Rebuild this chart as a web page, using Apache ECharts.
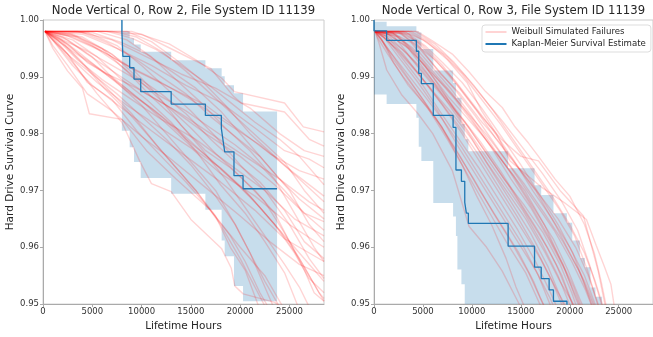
<!DOCTYPE html>
<html><head><meta charset="utf-8">
<script src="https://cdn.jsdelivr.net/npm/echarts@6/dist/echarts.min.js"></script>
<style>html,body{margin:0;padding:0;background:#fff}#c{width:653px;height:337px}</style>
</head><body><div id="c"></div><script>
const panelTitles = ['Node Vertical 0, Row 2, File System ID 11139', 'Node Vertical 0, Row 3, File System ID 11139'];
const xAxisName = 'Lifetime Hours';
const yAxisName = 'Hard Drive Survival Curve';
const legendNames = ['Weibull Simulated Failures', 'Kaplan-Meier Survival Estimate'];
const xMin = 0, xMax = 28500, xStep = 5000;
const yMin = 0.95, yMax = 1.0, yStep = 0.01;

// Left panel: Kaplan-Meier estimate
const leftKmTimes = [8000, 8000, 8100, 8790, 9230, 9910, 13000, 16470, 18090, 18260, 18430, 19370, 20290, 23740];
const leftKmSurv  = [1.000, 0.998, 0.9936, 0.9916, 0.9896, 0.9874, 0.9852, 0.9832, 0.9809, 0.9788, 0.9768, 0.9726, 0.9703, 0.9703];
// Left panel: confidence band (interval edges, then upper / lower per interval)
const leftBandEdges = [8000, 8100, 8790, 9230, 9910, 13000, 16470, 18120, 18430, 19370, 20290, 23740];
const leftBandUpper = [0.9999, 0.9980, 0.9968, 0.9957, 0.9944, 0.9929, 0.9915, 0.9901, 0.9885, 0.9871, 0.9839];
const leftBandLower = [0.9805, 0.9805, 0.9776, 0.9750, 0.9722, 0.9694, 0.9666, 0.9612, 0.9584, 0.9532, 0.9505];

// Right panel: Kaplan-Meier estimate
const rightKmTimes = [0, 0, 1290, 4330, 4570, 4840, 6055, 8080, 8370, 8930, 9270, 9435, 9640, 13700, 16400, 17080, 17890, 18330, 19710, 23300];
const rightKmSurv  = [1.000, 0.9981, 0.9964, 0.9945, 0.9906, 0.9888, 0.9832, 0.9811, 0.9736, 0.9716, 0.9679, 0.9660, 0.9642, 0.9602, 0.9565, 0.9545, 0.9525, 0.9505, 0.9485, 0.9485];
const rightBandEdges = [0, 1290, 4330, 4570, 4840, 6055, 8080, 8370, 8520, 8930, 9270, 9640, 13700, 16400, 17080, 18330, 19700, 20250, 21030, 21540, 22110, 22620, 23300];
const rightBandUpper = [0.9997, 0.9989, 0.9980, 0.9978, 0.9949, 0.9911, 0.9889, 0.9863, 0.9863, 0.9817, 0.9790, 0.9769, 0.9739, 0.9709, 0.9692, 0.9660, 0.9643, 0.9612, 0.9581, 0.9565, 0.9529, 0.9513];
const rightBandLower = [0.9869, 0.9852, 0.9828, 0.9777, 0.9752, 0.9678, 0.9654, 0.9620, 0.9561, 0.9535, 0.9450, 0.9450, 0.9450, 0.9450, 0.9450, 0.9450, 0.9450, 0.9450, 0.9450, 0.9450, 0.9450, 0.9450];

// Left panel: Weibull simulated failure curves [hours, survival]
const leftSims = [
 [[200,.998],[5000,.998],[9000,.998],[12800,.9958],[15500,.9930],[18100,.9898],[19400,.9874],[24500,.9854],[26400,.9812],[28500,.9803]],
 [[200,.998],[6000,.998],[10000,.9975],[13500,.9945],[17000,.9915],[19300,.9866],[20100,.9854],[24500,.9838],[27000,.9790],[28500,.9778]],
 [[200,.998],[3500,.998],[7000,.9965],[10500,.9935],[14000,.9905],[17500,.9880],[21000,.9845],[24000,.9800],[26500,.9770],[28500,.9760]],
 [[200,.998],[4000,.9975],[7500,.9950],[11000,.9920],[14500,.9885],[18000,.9855],[21500,.9810],[24500,.9770],[27000,.9755],[28500,.9740]],
 [[200,.998],[2500,.9972],[6000,.9945],[9500,.9910],[13000,.9880],[16500,.9850],[20000,.9805],[23000,.9765],[26000,.9735],[28500,.9720]],
 [[200,.998],[3000,.9970],[5500,.9950],[8500,.9920],[12000,.9890],[15000,.9860],[18500,.9820],[22000,.9780],[25500,.9730],[28500,.9690]],
 [[200,.998],[2000,.9970],[4500,.9940],[7500,.9905],[10500,.9870],[14000,.9835],[17000,.9800],[20500,.9760],[24000,.9720],[27000,.9680],[28500,.9665]],
 [[200,.998],[1800,.9965],[4000,.9935],[6500,.9905],[9500,.9880],[13000,.9845],[16500,.9800],[20000,.9760],[23500,.9710],[26500,.9660],[28500,.9645]],
 [[200,.998],[1500,.9965],[3500,.9930],[6000,.9895],[9000,.9860],[12000,.9825],[15500,.9790],[19000,.9745],[22500,.9700],[25500,.9650],[28500,.9620]],
 [[200,.998],[1500,.9960],[3000,.9930],[5500,.9890],[8500,.9850],[11500,.9815],[15000,.9775],[18000,.9730],[21500,.9690],[25000,.9640],[28500,.9600]],
 [[200,.998],[1200,.9960],[3000,.9920],[5000,.9885],[8000,.9845],[11000,.9805],[14500,.9760],[18000,.9715],[21500,.9665],[24500,.9615],[28500,.9575]],
 [[200,.998],[1000,.9955],[2500,.9920],[4500,.9870],[7000,.9840],[10000,.9795],[13000,.9755],[16500,.9705],[20000,.9655],[23000,.9610],[26000,.9570],[28500,.9550]],
 [[200,.998],[1000,.9950],[2500,.9910],[4000,.9880],[4700,.9835],[8000,.9825],[10500,.9770],[13500,.9720],[17000,.9665],[20000,.9600],[22500,.9550],[24500,.9490]],
 [[200,.998],[1500,.9955],[3500,.9915],[5500,.9870],[8000,.9820],[9800,.9752],[11000,.9712],[13000,.9698],[15000,.9649],[18100,.9598],[19100,.9563],[19450,.9532],[20300,.9518],[23500,.9503],[24500,.9490]],
 [[200,.998],[2000,.9960],[4000,.9925],[6500,.9880],[9000,.9835],[11500,.9780],[13500,.9740],[15500,.9700],[18000,.9640],[20000,.9580],[21500,.9530],[23000,.9480]],
 [[200,.998],[2500,.9965],[5000,.9935],[7500,.9890],[10000,.9850],[12500,.9800],[15000,.9750],[17500,.9700],[19500,.9640],[21000,.9590],[22500,.9540],[24500,.9480]],
 [[200,.998],[3000,.9975],[6000,.9950],[8500,.9910],[11000,.9865],[13500,.9825],[16000,.9775],[18500,.9720],[20500,.9670],[22500,.9620],[24500,.9570],[26000,.9530],[27000,.9495]],
 [[200,.998],[4500,.9978],[7500,.9955],[10000,.9920],[12500,.9880],[15000,.9840],[17500,.9795],[20000,.9745],[22500,.9700],[25000,.9640],[27000,.9580],[28500,.9545]],
 [[200,.998],[5500,.998],[8500,.9965],[11000,.9935],[13500,.9895],[16000,.9855],[18500,.9810],[21000,.9770],[23500,.9720],[25500,.9660],[27500,.9600],[28500,.9575]],
 [[200,.998],[7000,.998],[9500,.9970],[12000,.9945],[14500,.9910],[17000,.9870],[19500,.9830],[22000,.9790],[24500,.9750],[26500,.9700],[28500,.9660]],
 [[200,.998],[2000,.9965],[4500,.9945],[7000,.9920],[9500,.9895],[12000,.9865],[14500,.9840],[17000,.9810],[19500,.9780],[22000,.9745],[24500,.9700],[26500,.9660],[28500,.9630]],
 [[200,.998],[3500,.9970],[6500,.9945],[9000,.9915],[11500,.9870],[14000,.9815],[16500,.9770],[19000,.9740],[21500,.9700],[23500,.9660],[25000,.9610],[26500,.9560],[27500,.9520],[28500,.9505]],
 [[200,.998],[1000,.9965],[2800,.9935],[5000,.9905],[7500,.9870],[10000,.9830],[12500,.9790],[15000,.9745],[17500,.9690],[19500,.9640],[21000,.9590],[22500,.9530],[23500,.9490]],
 [[200,.998],[2500,.9958],[4500,.9925],[7000,.9900],[9500,.9865],[12000,.9830],[14500,.9790],[17000,.9755],[19500,.9715],[22000,.9670],[24000,.9630],[26000,.9580],[28000,.9520],[28500,.9510]],
 [[200,.998],[4000,.9978],[6500,.9960],[9500,.9930],[12000,.9900],[14500,.9870],[17000,.9830],[19500,.9795],[22000,.9760],[24000,.9720],[26000,.9685],[28500,.9650]],
 [[200,.998],[1500,.9970],[3500,.9945],[6000,.9910],[8500,.9875],[11000,.9845],[13500,.9810],[16000,.9770],[18500,.9730],[21000,.9690],[23500,.9640],[25500,.9590],[27000,.9545],[28500,.9520]],
 [[200,.998],[5000,.9978],[8000,.9960],[10500,.9940],[13000,.9910],[15500,.9880],[18000,.9840],[20500,.9790],[23000,.9740],[25000,.9700],[27000,.9640],[28500,.9610]],
 [[200,.998],[3000,.9965],[5500,.9935],[8000,.9895],[10500,.9860],[13000,.9820],[15500,.9770],[18000,.9710],[20500,.9660],[22500,.9610],[24500,.9555],[26000,.9490]],
 [[200,.998],[6500,.998],[9000,.9968],[11500,.9948],[14000,.9920],[16500,.9890],[19000,.9855],[21500,.9820],[24000,.9790],[26000,.9760],[28500,.9710]],
 [[200,.998],[2200,.9955],[4200,.9920],[6200,.9880],[8500,.9840],[11000,.9790],[13500,.9740],[15500,.9700],[17500,.9655],[19000,.9600],[20500,.9560],[22000,.9490]],
 [[200,.998],[4000,.9970],[7000,.9940],[9500,.9900],[12000,.9870],[14500,.9835],[17000,.9790],[19500,.9750],[22000,.9715],[24500,.9665],[26500,.9610],[28500,.9580]],
 [[200,.998],[1000,.9970],[3000,.9945],[5500,.9915],[8000,.9885],[10500,.9850],[13000,.9810],[15500,.9770],[18000,.9740],[20500,.9700],[23000,.9650],[25500,.9600],[27500,.9560],[28500,.9540]],
 [[200,.998],[8500,.998],[11000,.9962],[13500,.9930],[16000,.9895],[18500,.9850],[21000,.9800],[23500,.9760],[26000,.9720],[28500,.9680]],
 [[200,.998],[2800,.9975],[5000,.9955],[7500,.9925],[10000,.9890],[12500,.9850],[15000,.9810],[17500,.9765],[20000,.9725],[22500,.9680],[24500,.9625],[26500,.9565],[28000,.9520],[28500,.9505]],
 [[200,.998],[1200,.9962],[2500,.9940],[4500,.9890],[7000,.9860],[9500,.9805],[12000,.9760],[14500,.9715],[17000,.9665],[19000,.9620],[20500,.9575],[22000,.9520],[23000,.9490]]
];

// Right panel: Weibull simulated failure curves [hours, survival]
const rightSims = [
 [[100,.998],[4400,.998],[6000,.9963],[8000,.9940],[9700,.9909],[11400,.9874],[13100,.9846],[14400,.9812],[15800,.9783],[16800,.9760],[18500,.9720],[20000,.9690],[21500,.9640],[22500,.9590],[23200,.9540],[23800,.9490]],
 [[100,.998],[3500,.998],[5500,.9960],[7500,.9930],[9500,.9890],[11000,.9840],[12500,.9800],[13900,.9752],[17100,.9706],[19500,.9678],[21700,.9649],[22700,.9603],[23600,.9563],[24200,.9535],[24600,.9490]],
 [[100,.998],[3000,.9978],[5000,.9955],[7000,.9920],[9000,.9875],[11000,.9830],[13000,.9790],[15000,.9760],[16800,.9752],[19000,.9700],[21400,.9655],[22900,.9558],[23700,.9490]],
 [[100,.998],[2500,.998],[4500,.9960],[6500,.9925],[8500,.9885],[10500,.9840],[12500,.9790],[14500,.9745],[16500,.9700],[18500,.9640],[20000,.9590],[21500,.9540],[22700,.9490]],
 [[100,.998],[2000,.9975],[4000,.9950],[6000,.9910],[8000,.9870],[10000,.9825],[12000,.9775],[14000,.9720],[16000,.9670],[18000,.9610],[19500,.9560],[21200,.9490]],
 [[100,.998],[1500,.9975],[3500,.9950],[5500,.9905],[7500,.9855],[9500,.9805],[11500,.9750],[13500,.9700],[15500,.9650],[17500,.9590],[19000,.9540],[20700,.9490]],
 [[100,.998],[1200,.9972],[3000,.9940],[5000,.9895],[7000,.9850],[9000,.9800],[11000,.9745],[13000,.9690],[15000,.9635],[17000,.9580],[18500,.9530],[19800,.9490]],
 [[100,.998],[1000,.9970],[2500,.9935],[4500,.9890],[6500,.9840],[8500,.9780],[10500,.9725],[12500,.9670],[14500,.9615],[16500,.9560],[18000,.9510],[18500,.9490]],
 [[100,.998],[800,.9965],[2000,.9925],[3500,.9885],[5500,.9845],[7500,.9790],[9500,.9730],[11500,.9670],[13500,.9610],[15500,.9555],[17200,.9490]],
 [[100,.998],[500,.9960],[1300,.9912],[2800,.9869],[4500,.9835],[6000,.9800],[8000,.9735],[9700,.9637],[11500,.9600],[13100,.9558],[14800,.9501],[15200,.9490]],
 [[100,.998],[700,.9968],[1800,.9935],[3500,.9895],[5000,.9860],[7000,.9810],[9000,.9745],[10500,.9690],[12000,.9640],[13500,.9580],[14500,.9530],[15500,.9490]],
 [[100,.998],[2500,.9978],[4200,.9958],[6200,.9930],[8200,.9895],[10200,.9850],[12200,.9805],[14200,.9755],[16200,.9700],[18200,.9650],[20000,.9600],[21500,.9550],[22800,.9490]],
 [[100,.998],[3000,.998],[5000,.9965],[7000,.9940],[9000,.9905],[11000,.9860],[13000,.9815],[15000,.9765],[17000,.9715],[19000,.9665],[20500,.9620],[21800,.9560],[23000,.9490]],
 [[100,.998],[1800,.9978],[3800,.9960],[5800,.9920],[7800,.9880],[9800,.9835],[11800,.9785],[13800,.9735],[15800,.9680],[17800,.9620],[19300,.9570],[20600,.9510],[21100,.9490]],
 [[100,.998],[1300,.9976],[3200,.9955],[5200,.9920],[7200,.9870],[9200,.9815],[11200,.9765],[13200,.9715],[15200,.9665],[17200,.9605],[18800,.9550],[20200,.9490]],
 [[100,.998],[900,.9970],[2600,.9945],[4600,.9905],[6600,.9860],[8600,.9815],[10600,.9765],[12600,.9710],[14600,.9655],[16600,.9595],[18200,.9540],[19400,.9490]],
 [[100,.998],[2200,.9975],[4000,.9945],[5800,.9905],[7600,.9865],[9400,.9830],[11400,.9790],[13400,.9745],[15400,.9700],[17400,.9640],[19000,.9580],[20400,.9530],[21300,.9490]],
 [[100,.998],[3800,.998],[5600,.9962],[7500,.9935],[9400,.9900],[11300,.9860],[13200,.9820],[15200,.9775],[17200,.9730],[19200,.9680],[20800,.9630],[22000,.9570],[22900,.9520],[23400,.9490]],
 [[100,.998],[1600,.9970],[3400,.9940],[5300,.9900],[7300,.9860],[9300,.9820],[11300,.9770],[13300,.9720],[15300,.9675],[17300,.9625],[19000,.9570],[20200,.9520],[20800,.9490]],
 [[100,.998],[500,.9970],[1600,.9945],[3200,.9910],[5000,.9870],[7000,.9825],[9000,.9775],[11000,.9720],[13000,.9665],[15000,.9610],[16800,.9550],[18200,.9490]],
 [[100,.998],[2800,.9976],[4600,.9950],[6400,.9915],[8400,.9875],[10400,.9830],[12400,.9780],[14400,.9730],[16400,.9680],[18400,.9630],[20200,.9575],[21600,.9525],[22400,.9490]],
 [[100,.998],[1100,.9972],[2900,.9948],[4900,.9915],[6900,.9875],[8900,.9830],[10900,.9785],[12900,.9735],[14900,.9680],[16900,.9625],[18600,.9570],[19800,.9520],[20500,.9490]],
 [[100,.998],[3300,.9978],[5200,.9955],[7000,.9925],[9000,.9890],[11000,.9845],[13000,.9795],[15000,.9745],[17000,.9690],[18800,.9640],[20300,.9590],[21400,.9540],[22400,.9490]],
 [[100,.998],[400,.9968],[1400,.9940],[3000,.9900],[4800,.9860],[6800,.9815],[8800,.9760],[10800,.9700],[12800,.9645],[14800,.9590],[16300,.9540],[17500,.9490]],
 [[100,.998],[2000,.9972],[3700,.9935],[5700,.9895],[7700,.9855],[9700,.9810],[11700,.9760],[13700,.9710],[15700,.9655],[17700,.9600],[19200,.9550],[20500,.9490]],
 [[100,.998],[4200,.998],[6200,.9958],[8200,.9925],[10200,.9885],[12200,.9840],[14200,.9790],[16200,.9740],[18200,.9690],[20000,.9640],[21500,.9590],[22600,.9540],[23500,.9490]],
 [[100,.998],[1400,.9965],[3000,.9930],[4800,.9890],[6700,.9840],[8700,.9790],[10700,.9740],[12700,.9685],[14700,.9630],[16500,.9575],[17900,.9525],[18800,.9490]],
 [[100,.998],[2600,.9970],[4400,.9940],[6300,.9900],[8300,.9860],[10300,.9815],[12300,.9770],[14300,.9725],[16300,.9670],[18300,.9615],[19800,.9560],[21000,.9510],[21500,.9490]],
 [[100,.998],[1900,.9978],[3600,.9950],[5400,.9915],[7400,.9880],[9400,.9840],[11400,.9800],[13400,.9755],[15400,.9710],[17400,.9660],[19300,.9610],[20900,.9560],[22100,.9510],[22600,.9490]],
 [[100,.998],[700,.9975],[2200,.9950],[4000,.9915],[6000,.9875],[8000,.9835],[10000,.9790],[12000,.9735],[14000,.9680],[16000,.9625],[17800,.9565],[19100,.9510],[19600,.9490]],
 [[100,.998],[3600,.9975],[5000,.9945],[6800,.9905],[8800,.9870],[10800,.9825],[12800,.9785],[14800,.9740],[16800,.9695],[18800,.9650],[20600,.9600],[21900,.9550],[23100,.9490]],
 [[100,.998],[1000,.9960],[2400,.9925],[4200,.9880],[6200,.9830],[8200,.9775],[10200,.9720],[12200,.9660],[14000,.9610],[15800,.9555],[17000,.9510],[17600,.9490]]
];

const FONT = 'DejaVu Sans';
const RED = 'rgba(255,0,0,0.17)';
const BLUE = '#1f77b4';
const BAND = 'rgba(31,119,180,0.25)';

function zip(a, b) { return a.map((v, i) => [v, b[i]]); }

function bandSeries(idx, edges, upper, lower) {
  return {
    type: 'custom', xAxisIndex: idx, yAxisIndex: idx, silent: true, z: 1,
    data: [[0, 0]],
    renderItem: function (params, api) {
      const pts = [];
      for (let i = 0; i < upper.length; i++) {
        pts.push(api.coord([edges[i], upper[i]]));
        pts.push(api.coord([edges[i + 1], upper[i]]));
      }
      for (let i = lower.length - 1; i >= 0; i--) {
        pts.push(api.coord([edges[i + 1], lower[i]]));
        pts.push(api.coord([edges[i], lower[i]]));
      }
      const cs = params.coordSys;
      const clipped = echarts.graphic.clipPointsByRect(pts, { x: cs.x, y: cs.y, width: cs.width, height: cs.height });
      return { type: 'polygon', shape: { points: clipped }, style: { fill: BAND } };
    }
  };
}

function simSeries(idx, sims) {
  return sims.map(pts => ({
    type: 'line', name: legendNames[0], xAxisIndex: idx, yAxisIndex: idx,
    data: pts, symbol: 'none', showSymbol: false, silent: true, z: 3,
    lineStyle: { color: RED, width: 1.4 }, itemStyle: { color: RED }
  }));
}

function kmSeries(idx, t, s) {
  return {
    type: 'line', name: legendNames[1], xAxisIndex: idx, yAxisIndex: idx, step: 'end',
    data: zip(t, s), symbol: 'none', showSymbol: false, silent: true, z: 5,
    lineStyle: { color: BLUE, width: 1.3 }, itemStyle: { color: BLUE }
  };
}

const grids = [
  { left: 43, top: 20, width: 281, height: 292 },
  { left: 374, top: 20, width: 279, height: 292 }
];

function xAx(idx) {
  return {
    type: 'value', gridIndex: idx, min: xMin, max: xMax, interval: xStep,
    name: xAxisName, nameLocation: 'middle', nameGap: 10,
    nameTextStyle: { fontFamily: FONT, fontSize: 10.5, color: '#262626' },
    axisLine: { show: true, lineStyle: { color: '#aaaaaa', width: 1 } },
    axisTick: { show: true, length: 3, lineStyle: { color: '#aaaaaa' } },
    axisLabel: { fontFamily: FONT, fontSize: 8.5, color: '#333333', margin: 3, showMaxLabel: false, formatter: v => String(v) },
    splitLine: { show: false }
  };
}
function yAx(idx) {
  return {
    type: 'value', gridIndex: idx, min: yMin, max: yMax, interval: yStep,
    name: yAxisName, nameLocation: 'middle', nameGap: 26,
    nameTextStyle: { fontFamily: FONT, fontSize: 10.5, color: '#262626' },
    axisLine: { show: true, lineStyle: { color: '#aaaaaa', width: 1 } },
    axisTick: { show: true, length: 3, lineStyle: { color: '#aaaaaa' } },
    axisLabel: { fontFamily: FONT, fontSize: 8.5, color: '#333333', margin: 4, formatter: v => v.toFixed(2) },
    splitLine: { show: false }
  };
}

const chart = echarts.init(document.getElementById('c'), null, { renderer: 'canvas' });
chart.setOption({
  animation: false,
  backgroundColor: '#ffffff',
  title: [
    { text: panelTitles[0], left: 183.5, top: 5, padding: 0, textAlign: 'center', textStyle: { fontFamily: FONT, fontSize: 11.7, fontWeight: 'normal', color: '#262626' } },
    { text: panelTitles[1], left: 513.5, top: 5, padding: 0, textAlign: 'center', textStyle: { fontFamily: FONT, fontSize: 11.7, fontWeight: 'normal', color: '#262626' } }
  ],
  grid: grids.map(g => Object.assign({ show: true, borderColor: '#cccccc', borderWidth: 1, backgroundColor: 'transparent' }, g)),
  xAxis: [xAx(0), xAx(1)],
  yAxis: [yAx(0), yAx(1)],
  legend: {
    left: 482, top: 25, orient: 'vertical',
    data: legendNames,
    itemWidth: 21, itemHeight: 9, itemGap: 3,
    padding: [2.5, 5, 3.5, 2.5],
    borderColor: '#dddddd', borderWidth: 1, borderRadius: 3,
    backgroundColor: 'rgba(255,255,255,0.8)',
    itemStyle: { color: 'rgba(0,0,0,0)', borderWidth: 0 },
    textStyle: { fontFamily: FONT, fontSize: 8.6, color: '#262626' },
    selectedMode: false
  },
  series: [].concat(
    [bandSeries(0, leftBandEdges, leftBandUpper, leftBandLower)],
    simSeries(0, leftSims),
    [kmSeries(0, leftKmTimes, leftKmSurv)],
    [bandSeries(1, rightBandEdges, rightBandUpper, rightBandLower)],
    simSeries(1, rightSims),
    [kmSeries(1, rightKmTimes, rightKmSurv)]
  )
});
</script></body></html>
